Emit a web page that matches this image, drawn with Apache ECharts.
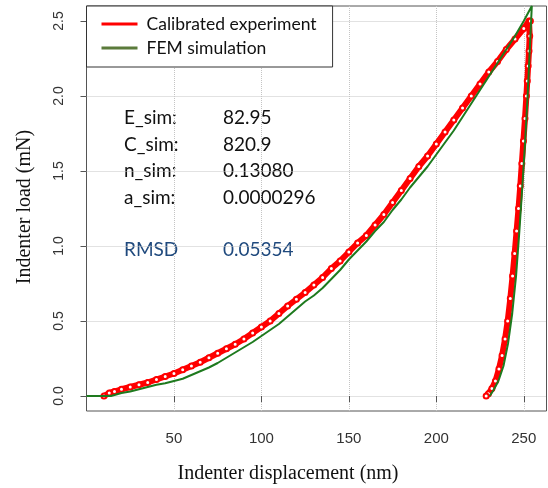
<!DOCTYPE html>
<html><head><meta charset="utf-8">
<script src="https://cdn.jsdelivr.net/npm/echarts@6/dist/echarts.min.js"></script>
<style>html,body{margin:0;padding:0;background:#fff}#c{width:548px;height:488px}</style>
</head><body><div id="c"></div>
<script>
// ---- data ----
const seriesNames = ['Calibrated experiment', 'FEM simulation'];
const xTitle = 'Indenter displacement (nm)';
const yTitle = 'Indenter load (mN)';
const xTicks = [50, 100, 150, 200, 250];
const yTicks = [0, 0.5, 1, 1.5, 2, 2.5];

// experiment, loading branch [displacement nm, load mN]
const expLoading = [
  [10,0.00],[13,0.02],[16,0.03],[20,0.045],[25,0.06],[30,0.075],[35,0.09],[40,0.11],
  [45,0.13],[50,0.15],[55,0.175],[60,0.20],[65,0.225],[70,0.255],[75,0.285],[80,0.315],
  [85,0.345],[90,0.38],[95,0.42],[100,0.46],[105,0.50],[110,0.55],[115,0.60],[120,0.645],
  [125,0.69],[130,0.74],[135,0.79],[140,0.85],[145,0.90],[150,0.96],[155,1.02],[160,1.07],
  [165,1.14],[170,1.21],[175,1.29],[180,1.37],[185,1.45],[190,1.53],[195,1.60],[200,1.68],
  [205,1.76],[210,1.84],[215,1.92],[220,2.00],[225,2.08],[230,2.16],[235,2.23],[240,2.31],
  [245,2.38],[250,2.45],[253,2.50]
];
// experiment, unloading branch
const expUnloading = [
  [253.8,2.50],[253.4,2.40],[253.0,2.30],[252.5,2.20],[252.0,2.10],[251.5,2.00],[250.7,1.85],
  [249.8,1.70],[248.9,1.55],[248.0,1.40],[247.0,1.25],[245.9,1.10],[244.8,0.95],[243.6,0.80],
  [242.3,0.65],[240.8,0.50],[239.3,0.38],[237.6,0.27],[235.8,0.18],[233.8,0.10],[231.8,0.05],
  [229.8,0.015],[228.5,0.00]
];
// FEM simulation, loading branch
const femLoading = [
  [0,0],[14,0],[20,0.02],[25,0.03],[30,0.045],[35,0.06],[40,0.075],[45,0.085],[50,0.10],
  [55,0.115],[60,0.14],[65,0.165],[70,0.19],[75,0.22],[80,0.255],[85,0.29],[90,0.325],
  [95,0.36],[100,0.40],[105,0.44],[110,0.48],[115,0.53],[120,0.58],[125,0.63],[130,0.67],
  [135,0.72],[140,0.78],[145,0.84],[150,0.91],[155,0.97],[160,1.03],[165,1.10],[170,1.16],
  [175,1.24],[180,1.31],[185,1.39],[190,1.46],[195,1.53],[200,1.61],[205,1.69],[210,1.77],
  [215,1.86],[220,1.95],[225,2.04],[230,2.13],[235,2.22],[240,2.31],[245,2.40],[250,2.50],
  [254.6,2.60]
];
// FEM simulation, unloading branch
const femUnloading = [
  [254.6,2.60],[253.4,2.30],[252.2,2.00],[250.8,1.70],[249.2,1.40],[247.5,1.10],[245.6,0.80],
  [243.4,0.55],[241.0,0.35],[238.4,0.20],[235.5,0.10],[232.5,0.035],[230.5,0.00]
];

const paramNames = ['E_sim:', 'C_sim:', 'n_sim:', 'a_sim:'];
const paramValues = ['82.95', '820.9', '0.13080', '0.0000296'];
const rmsdName = 'RMSD';
const rmsdValue = '0.05354';

// ---- chart ----
const chart = echarts.init(document.getElementById('c'), null, {renderer: 'canvas'});
const sansFont = 'Lato';
const annotSize = 19;
const rowY = [118, 145, 171, 198];
const graphics = [];
paramNames.forEach((n, i) => {
  graphics.push({type: 'text', x: 124, y: rowY[i],
    style: {text: n, font: annotSize + 'px ' + sansFont, fill: '#111', verticalAlign: 'middle'}});
  graphics.push({type: 'text', x: 223, y: rowY[i],
    style: {text: paramValues[i], font: annotSize + 'px ' + sansFont, fill: '#111', verticalAlign: 'middle'}});
});
graphics.push({type: 'text', x: 124, y: 250,
  style: {text: rmsdName, font: annotSize + 'px ' + sansFont, fill: '#1F497D', verticalAlign: 'middle'}});
graphics.push({type: 'text', x: 223, y: 250,
  style: {text: rmsdValue, font: annotSize + 'px ' + sansFont, fill: '#1F497D', verticalAlign: 'middle'}});
// axis titles
graphics.push({type: 'text', x: 288, y: 474,
  style: {text: xTitle, font: '20px "Liberation Serif"', fill: '#111', align: 'center', verticalAlign: 'middle'}});
graphics.push({type: 'text', x: 25, y: 207, rotation: Math.PI / 2,
  style: {text: yTitle, font: '20px "Liberation Serif"', fill: '#111', align: 'center', verticalAlign: 'middle'}});

const option = {
  animation: false,
  backgroundColor: '#fff',
  grid: {left: 86.5, right: 1.5, top: 6, bottom: 77, show: true, borderColor: '#555', borderWidth: 1},
  legend: {
    orient: 'vertical', left: 86.5, top: 6,
    padding: [9, 16, 10, 15],
    backgroundColor: '#fff', borderColor: '#333', borderWidth: 1,
    itemWidth: 36, itemHeight: 3, itemGap: 6, icon: 'rect',
    textStyle: {fontFamily: sansFont, fontSize: 17.5, color: '#111', lineHeight: 16, padding: [0, 0, 0, 4]},
    data: [
      {name: seriesNames[0], itemStyle: {color: '#ff0000', borderWidth: 0}},
      {name: seriesNames[1], itemStyle: {color: '#5b7b3b', borderWidth: 0}}
    ]
  },
  xAxis: {
    type: 'value', min: 0, max: 263,
    axisLine: {show: false},
    axisTick: {show: true, customValues: xTicks, length: 6, lineStyle: {color: '#555'}},
    axisLabel: {customValues: xTicks, fontSize: 15, fontFamily: 'Liberation Sans', color: '#333', margin: 20},
    splitLine: {show: true, lineStyle: {type: 'dotted', color: '#c4c4c4'}}
  },
  yAxis: {
    type: 'value', min: -0.1, max: 2.6,
    axisLine: {show: false},
    axisTick: {show: true, customValues: yTicks, length: 6, lineStyle: {color: '#555'}},
    axisLabel: {customValues: yTicks, rotate: 90, fontSize: 14, fontFamily: 'Liberation Sans', color: '#333', margin: 20,
      formatter: v => v.toFixed(1)},
    splitLine: {show: true, lineStyle: {type: 'dotted', color: '#c4c4c4'}}
  },
  series: [
    {
      name: seriesNames[0], type: 'line', data: expLoading.concat(expUnloading),
      symbol: 'emptyCircle', symbolSize: 5, showSymbol: true, showAllSymbol: true,
      lineStyle: {color: '#ff0000', width: 6},
      itemStyle: {color: '#ff0000', borderColor: '#ff0000', borderWidth: 1.5},
      emphasis: {disabled: true}, z: 2
    },
    {
      name: seriesNames[1], type: 'line', data: femLoading.concat(femUnloading),
      symbol: 'none', lineStyle: {color: '#1e7a1e', width: 2},
      itemStyle: {color: '#1e7a1e'},
      emphasis: {disabled: true}, z: 3
    }
  ],
  graphic: graphics
};
chart.setOption(option);
</script>
</body></html>
